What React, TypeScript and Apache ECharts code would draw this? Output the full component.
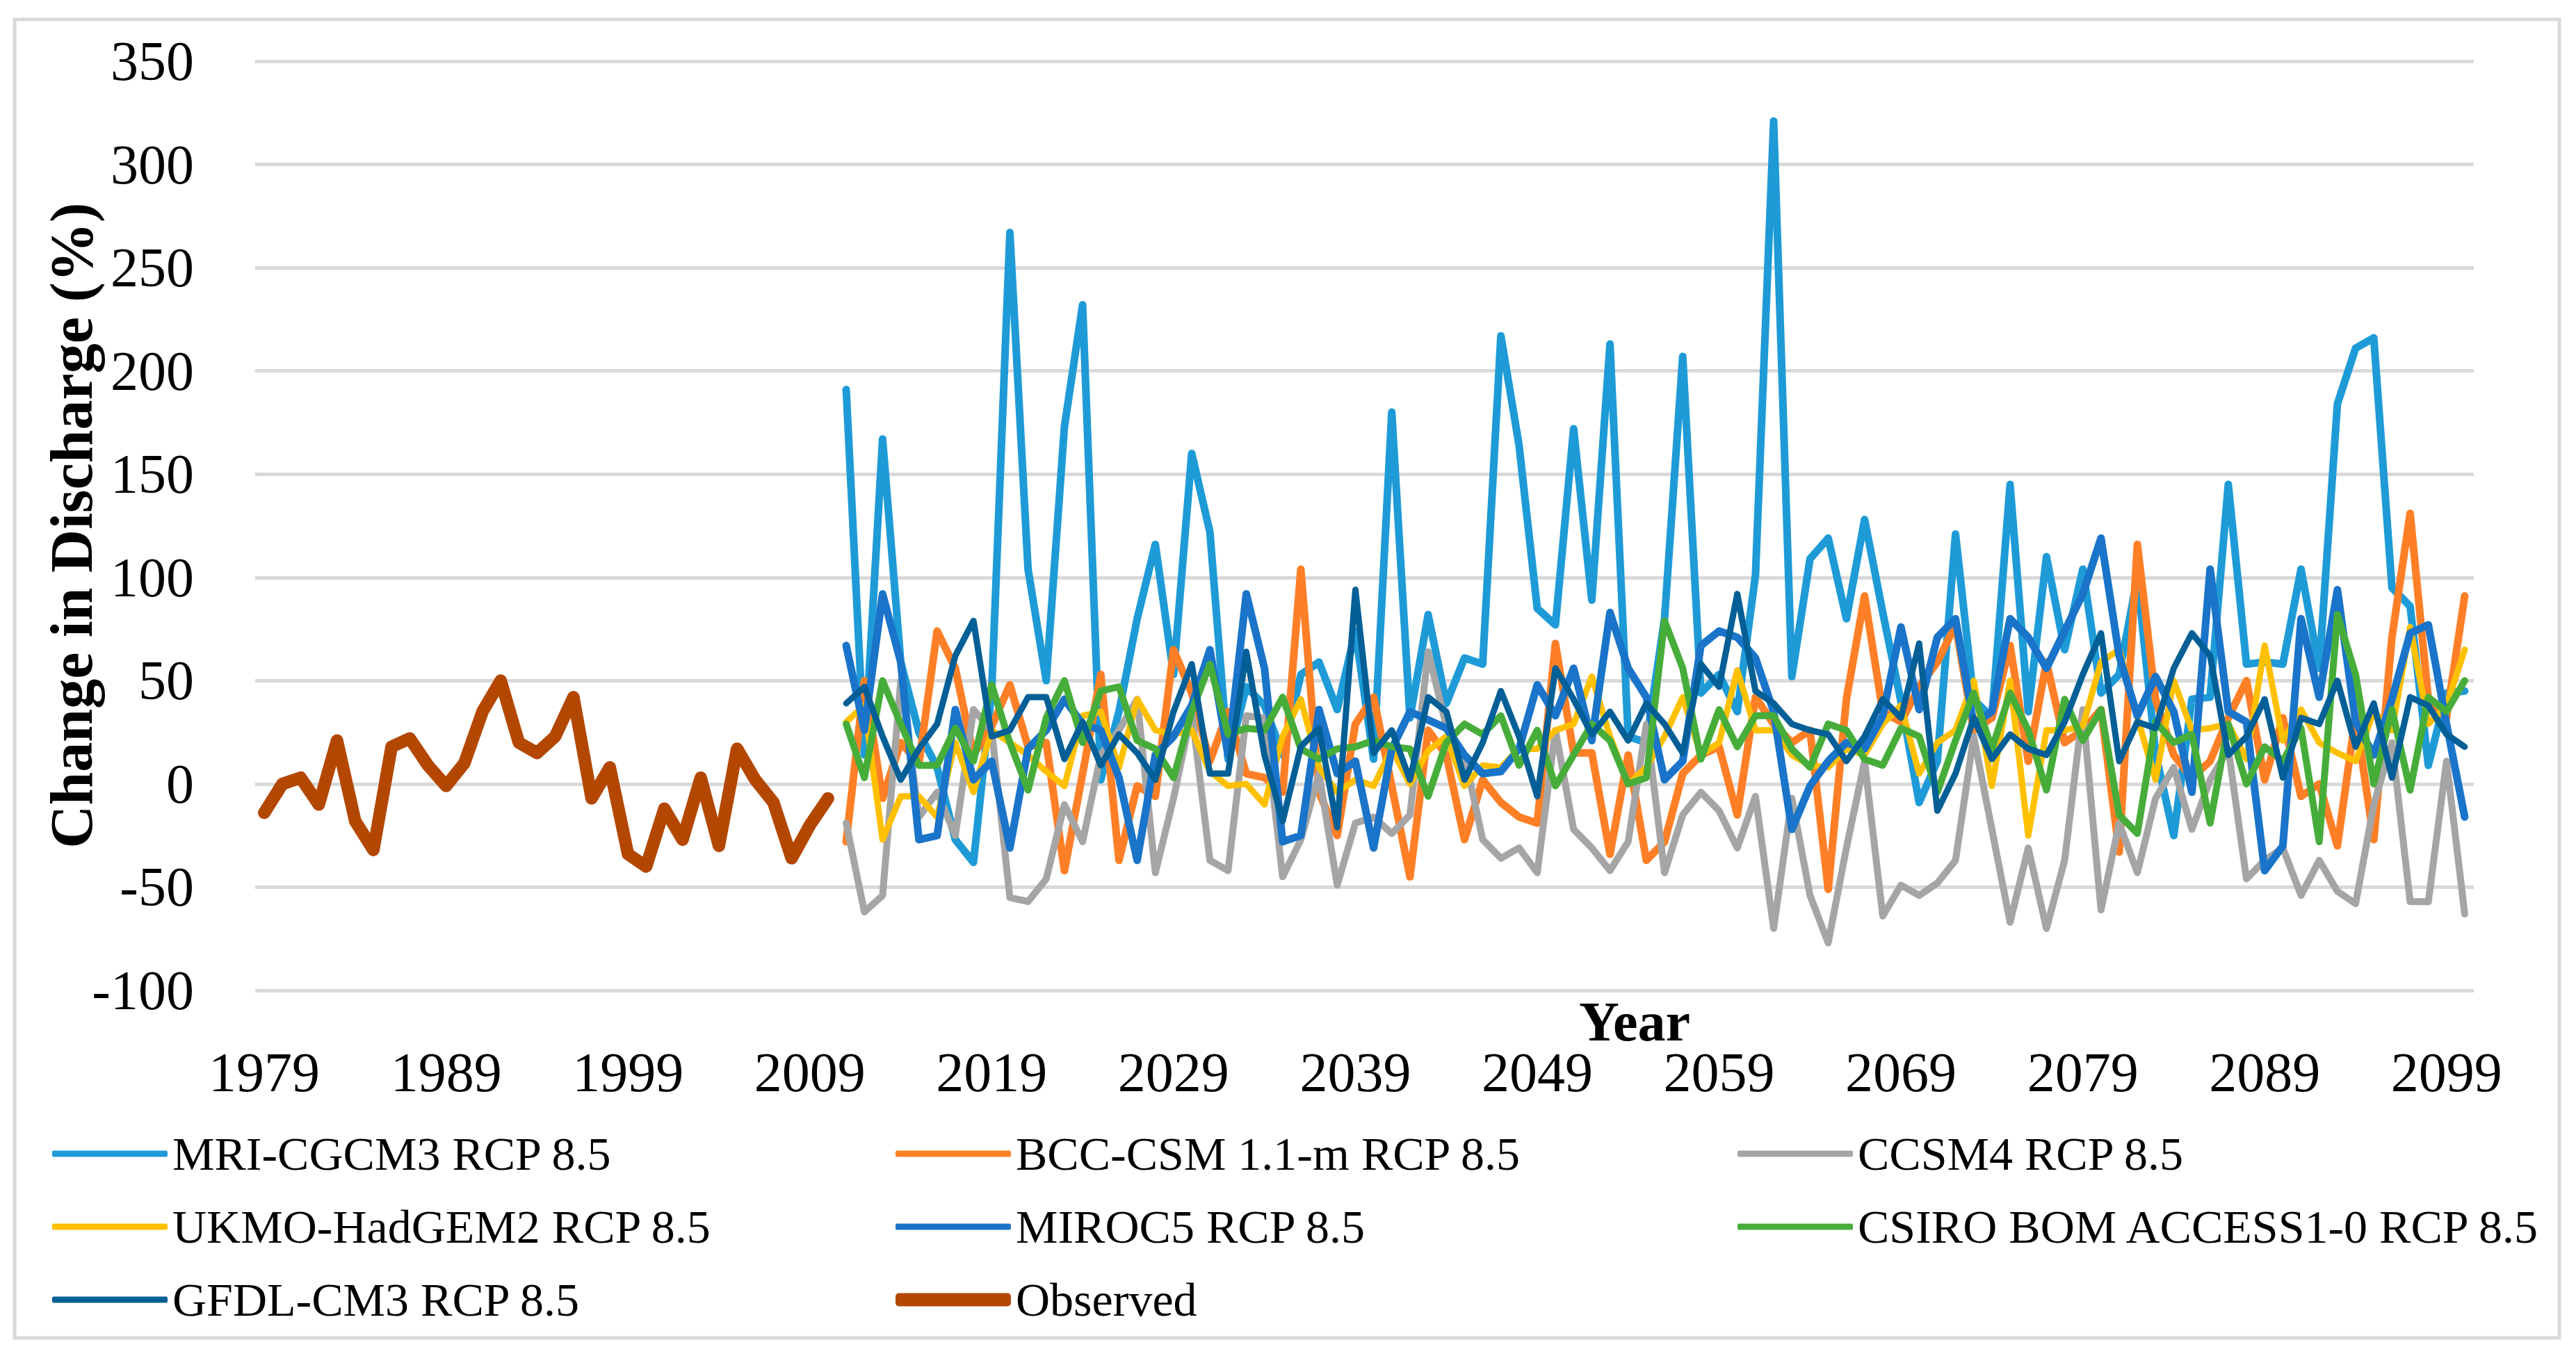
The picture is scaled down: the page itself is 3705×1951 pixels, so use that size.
import React, { useEffect, useRef } from "react";
import * as echarts from "echarts";

const years: string[] = Array.from({ length: 122 }, (_, i) => String(1979 + i));

const observed = [
  -14, 0, 3, -10, 21, -18, -32, 18, 22, 9,
  -1, 10, 35, 50, 20, 15, 23, 42, -7, 8,
  -34, -40, -12, -27, 3, -30, 17, 2, -9, -36,
  -20, -7,
];

const mri = [
  191, 14, 167, 59, 25, 8, -27, -38, 45, 267,
  104, 50, 173, 232, 2, 35, 80, 116, 53, 160,
  122, 12, 47, 38, 14, 53, 59, 36, 74, 12,
  180, 32, 82, 39, 61, 58, 217, 164, 85, 77,
  172, 89, 213, 23, 20, 80, 207, 44, 53, 35,
  101, 321, 52, 109, 119, 80, 128, 83, 40, -9,
  11, 121, 41, 32, 145, 35, 110, 65, 104, 44,
  53, 100, 15, -25, 41, 42, 145, 58, 59, 58,
  104, 56, 184, 211, 216, 95, 86, 9, 44, 45,
];

const bcc = [
  -28, 50, -7, 20, 10, 74, 56, 14, 28, 48,
  18, 20, -42, 5, 53, -37, -1, -6, 65, 44,
  11, 35, 5, 3, -4, 104, -4, -25, 29, 42,
  -1, -45, 26, 14, -27, 2, -9, -16, -19, 68,
  15, 15, -34, 14, -37, -28, 5, 14, 18, -15,
  42, 29, 20, 26, -51, 41, 91, 35, 30, 47,
  59, 77, 26, 32, 67, 11, 59, 20, 26, 36,
  -33, 116, 41, 14, 3, 11, 32, 50, 2, 32,
  -6, 0, -30, 33, -27, 71, 131, 41, 32, 91,
];

const ccsm4 = [
  -19, -62, -54, 50, -16, -4, -25, 36, 26, -55,
  -57, -46, -10, -28, 14, 26, 41, -43, -7, 35,
  -37, -42, 33, 32, -45, -27, 5, -49, -19, -16,
  -24, -15, 64, 28, 14, -27, -36, -31, -43, 26,
  -22, -31, -42, -28, 29, -43, -15, -4, -13, -31,
  -6, -70, -7, -54, -77, -31, 11, -64, -49, -54,
  -48, -37, 23, -22, -67, -31, -70, -37, 36, -61,
  -19, -43, -7, 8, -22, 2, 17, -46, -37, -31,
  -54, -37, -52, -58, -10, 20, -57, -57, 11, -63,
];

const ukmo = [
  30, 38, -27, -6, -6, -16, 20, -4, 26, 20,
  14, 6, -1, 33, 35, 8, 41, 26, 24, 26,
  6, -1, 0, -10, 23, 41, 8, -4, 2, -1,
  17, 0, 16, 23, -1, 9, 8, 17, 17, 26,
  29, 52, 23, 0, 8, 23, 42, 14, 20, 55,
  26, 26, 14, 9, 8, 17, 14, 29, 38, 5,
  20, 26, 50, -1, 50, -25, 26, 26, 28, 59,
  65, 32, 2, 50, 26, 27, 29, 12, 67, 21,
  36, 20, 15, 11, 35, 26, 76, 29, 38, 65,
];

const miroc5 = [
  67, 26, 92, 59, -27, -25, 36, 2, 11, -31,
  17, 26, 41, 29, 26, 3, -37, 14, 23, 38,
  65, 14, 92, 56, -28, -25, 36, 5, 11, -31,
  17, 35, 31, 27, 14, 5, 6, 17, 48, 33,
  56, 21, 83, 56, 42, 2, 11, 67, 74, 71,
  61, 35, -22, -1, 11, 20, 17, 33, 76, 36,
  71, 80, 29, 35, 80, 71, 56, 74, 92, 119,
  62, 33, 52, 35, -4, 104, 35, 30, -42, -30,
  80, 42, 94, 30, 14, 41, 73, 77, 29, -16,
];

const csiro = [
  29, 3, 50, 29, 9, 9, 27, 11, 48, 20,
  -3, 32, 50, 20, 45, 47, 21, 17, 3, 35,
  58, 24, 27, 26, 42, 17, 12, 17, 18, 21,
  18, 17, -6, 20, 29, 24, 33, 9, 26, -1,
  14, 29, 21, 0, 3, 79, 56, 12, 36, 18,
  33, 33, 17, 8, 29, 26, 12, 9, 27, 23,
  -4, 21, 44, 17, 44, 26, -3, 41, 21, 36,
  -15, -24, 30, 20, 24, -19, 29, 0, 18, 11,
  27, -28, 82, 53, 0, 36, -3, 42, 35, 50,
];

const gfdl = [
  39, 47, 23, 2, 17, 29, 62, 79, 23, 26,
  42, 42, 12, 30, 9, 24, 15, 2, 35, 58,
  5, 5, 64, 14, -18, 18, 27, -21, 94, 15,
  26, 2, 42, 35, 2, 20, 45, 23, -6, 56,
  41, 24, 35, 21, 39, 29, 15, 58, 47, 92,
  45, 39, 29, 26, 24, 11, 23, 41, 32, 68,
  -13, 5, 32, 12, 24, 17, 14, 30, 53, 73,
  11, 30, 27, 56, 73, 62, 14, 23, 41, 3,
  32, 29, 50, 18, 39, 3, 42, 38, 24, 18,
];

const yTicks = { min: -100, max: 350, interval: 50 };

const FONT = "'Liberation Serif', 'Times New Roman', serif";

const modelDefs = [
  { name: "MRI-CGCM3 RCP 8.5", data: mri, color: "#1E9BD7", width: 11 },
  { name: "BCC-CSM 1.1-m RCP 8.5", data: bcc, color: "#FF7F27", width: 11 },
  { name: "CCSM4 RCP 8.5", data: ccsm4, color: "#A5A5A5", width: 10 },
  { name: "UKMO-HadGEM2 RCP 8.5", data: ukmo, color: "#FFC000", width: 9 },
  { name: "MIROC5 RCP 8.5", data: miroc5, color: "#1A74C9", width: 11 },
  { name: "CSIRO BOM ACCESS1-0 RCP 8.5", data: csiro, color: "#47AD3A", width: 10 },
  { name: "GFDL-CM3 RCP 8.5", data: gfdl, color: "#035F96", width: 9 },
];

const OBS_COLOR = "#B34700";

export default function App() {
  const ref = useRef<HTMLDivElement>(null);

  useEffect(() => {
    if (!ref.current) return;
    const chart = echarts.init(ref.current, undefined, { renderer: "svg" });

    const pad = (n: number) => Array.from({ length: n }, () => null as number | null);
    const series: any[] = modelDefs.map((m) => ({
      name: m.name,
      type: "line",
      symbol: "none",
      data: [...pad(observed.length), ...m.data],
      itemStyle: { color: m.color },
      lineStyle: { color: m.color, width: m.width, cap: "round", join: "round" },
    }));
    series.push({
      name: "Observed",
      type: "line",
      symbol: "none",
      data: [...observed, ...pad(years.length - observed.length)],
      itemStyle: { color: OBS_COLOR },
      lineStyle: { color: OBS_COLOR, width: 18, cap: "round", join: "round" },
    });

    const ROW0 = 1620;
    const legendCommon = {
      orient: "vertical",
      top: ROW0,
      itemWidth: 166,
      itemHeight: 9,
      itemGap: 35,
      icon: "roundRect",
      selectedMode: false,
      textStyle: {
        fontFamily: FONT,
        fontSize: 68,
        lineHeight: 70,
        color: "#000",
        padding: [0, 0, 0, 2],
      },
    };

    chart.setOption({
      animation: false,
      backgroundColor: "#fff",
      grid: { left: 367, right: 147, top: 88, bottom: 526, containLabel: false },
      xAxis: {
        type: "category",
        data: years,
        boundaryGap: true,
        axisLine: { show: false },
        axisTick: { show: false },
        axisLabel: {
          interval: 9,
          fontFamily: FONT,
          fontSize: 80,
          color: "#000",
          margin: 78,
        },
        splitLine: { show: false },
      },
      yAxis: {
        type: "value",
        min: yTicks.min,
        max: yTicks.max,
        interval: yTicks.interval,
        axisLine: { show: false },
        axisTick: { show: false },
        axisLabel: { fontFamily: FONT, fontSize: 80, color: "#000", margin: 88 },
        splitLine: { show: true, lineStyle: { color: "#D9D9D9", width: 5 } },
      },
      legend: [
        {
          ...legendCommon,
          left: 70,
          data: ["MRI-CGCM3 RCP 8.5", "UKMO-HadGEM2 RCP 8.5", "GFDL-CM3 RCP 8.5"],
        },
        {
          ...legendCommon,
          left: 1283,
          data: ["BCC-CSM 1.1-m RCP 8.5", "MIROC5 RCP 8.5"],
        },
        {
          ...legendCommon,
          left: 1283,
          top: ROW0 + 210,
          itemHeight: 19,
          data: ["Observed"],
        },
        {
          ...legendCommon,
          left: 2494,
          data: ["CCSM4 RCP 8.5", "CSIRO BOM ACCESS1-0 RCP 8.5"],
        },
      ],
      graphic: [
        {
          type: "rect",
          shape: { x: 21, y: 28, width: 3660, height: 1897 },
          style: { fill: "none", stroke: "#D9D9D9", lineWidth: 5 },
          silent: true,
          z: -1,
        },
        {
          type: "text",
          x: 103,
          y: 756,
          rotation: Math.PI / 2,
          style: {
            text: "Change in Discharge (%)",
            font: `bold 86px ${FONT}`,
            fill: "#000",
            align: "center",
            verticalAlign: "middle",
            textAlign: "center",
            textVerticalAlign: "middle",
          },
          silent: true,
        },
        {
          type: "text",
          x: 2351,
          y: 1470,
          style: {
            text: "Year",
            font: `bold 80px ${FONT}`,
            fill: "#000",
            align: "center",
            verticalAlign: "middle",
            textAlign: "center",
            textVerticalAlign: "middle",
          },
          silent: true,
        },
      ],
      series,
    });

    return () => chart.dispose();
  }, []);

  return (
    <div
      ref={ref}
      style={{ position: "fixed", left: 0, top: 0, width: 3705, height: 1951, background: "#fff" }}
    />
  );
}
